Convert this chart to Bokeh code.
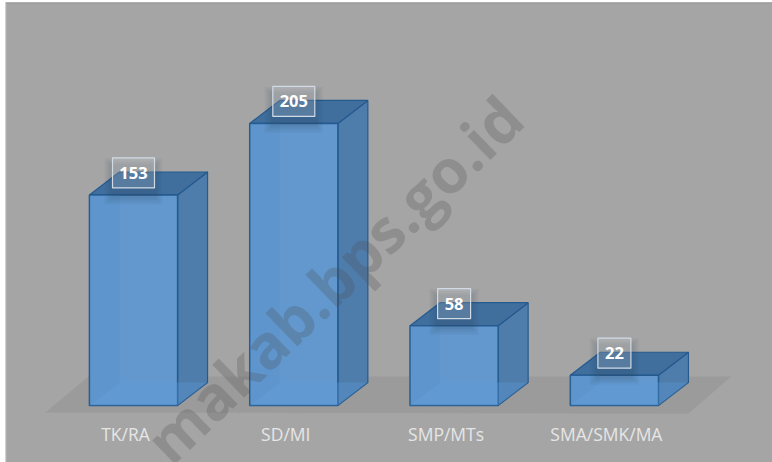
from bokeh.plotting import figure
from bokeh.embed import file_html
from bokeh.resources import INLINE
from bokeh.core.properties import value
from bokeh.models import Range1d, Span

categories = ["TK/RA", "SD/MI", "SMP/MTs", "SMA/SMK/MA"]
values = [153, 205, 58, 22]
watermark = "makab.bps.go.id"

BG = "#a5a5a5"
FLOOR = "#9c9b9b"
FRONT = "#6298ce"
SIDE = "#4e7dac"
TOP = "#406f9e"
EDGE = "#255a8e"

bar_w = 0.55
dx = 0.187
dy = 16.7
xs = list(range(len(categories)))

W, H = 767, 460
LEFT, TOP_PX = 5, 2
px_per_x = 160.3
px_per_y = 1.376
x_left = (LEFT - 133) / px_per_x
y_top = (405 - TOP_PX) / px_per_y

p = figure(width=W, height=H, output_backend="svg", toolbar_location=None,
           x_range=Range1d(x_left, x_left + W / px_per_x),
           y_range=Range1d(y_top - H / px_per_y, y_top),
           background_fill_color=BG, border_fill_color=BG, outline_line_color=None,
           min_border_left=0, min_border_right=0, min_border_top=0, min_border_bottom=0,
           margin=(TOP_PX, 0, 0, LEFT))
p.grid.visible = False
p.axis.visible = False

p.add_layout(Span(location=x_left, dimension="height", line_color="#d0d0d0", line_width=1.5))
p.add_layout(Span(location=y_top, dimension="width", line_color="#8c8c8c", line_width=1.5))

# floor
p.patch([-0.55, -0.28, 3.73, 3.46], [-5, 21, 21, -6], fill_color=FLOOR, line_color=None)

for x, v in zip(xs, values):
    x0, x1 = x - bar_w / 2, x + bar_w / 2
    p.patch([x1, x1 + dx, x1 + dx, x1], [0, dy, v + dy, v], fill_color=SIDE, line_color=EDGE, line_width=1.2)
    p.patch([x0, x0 + dx, x1 + dx, x1], [v, v + dy, v + dy, v], fill_color=TOP, line_color=EDGE, line_width=1.2)
    p.quad(left=x0, right=x1, bottom=0, top=v, fill_color=FRONT, line_color=EDGE, line_width=1.5)
    p.patch([x0, x0 + dx, x0 + dx, x0], [0, dy, v, v], fill_color="#4f8cc9", fill_alpha=0.18, line_color=None)
    p.patch([x0, x1, x1 + dx, x0 + dx], [0, 0, dy, dy], fill_color="#5f9fdf", fill_alpha=0.3, line_color=None)
    bw = 42 if v >= 100 else 33
    for grow in (16, 12, 8, 4):
        p.rect(x=[x], y=[v + 10], width=bw + grow, height=30 + grow, width_units="screen", height_units="screen",
               fill_color="#24384d", fill_alpha=0.05, line_color=None)
    p.rect(x=[x], y=[v + 16], width=bw, height=30, width_units="screen", height_units="screen",
           fill_color="#ffffff", fill_alpha=0.16, line_color="#d0dbe6", line_width=1.2)
    p.text(x=[x], y=[v + 16], text=[str(v)], text_align="center", text_baseline="middle",
           text_font=value("Open Sans"), text_font_style="bold", text_font_size="16.5px", text_color="#ffffff")

p.text(x=[x - 0.05 for x in xs], y=[-21] * 4, text=categories, text_align="center", text_baseline="middle",
       text_font=value("Open Sans"), text_font_size="17.5px", text_color="#e6e6e6")

p.text(x=[0.137], y=[-32.8], text=[watermark], angle=44, angle_units="deg",
       text_font=value("Open Sans"), text_font_style="bold", text_font_size="60.5px",
       text_color="#4a4a4a", text_alpha=0.25, text_align="left", text_baseline="alphabetic")

open("out.html", "w").write(file_html(p, INLINE))
